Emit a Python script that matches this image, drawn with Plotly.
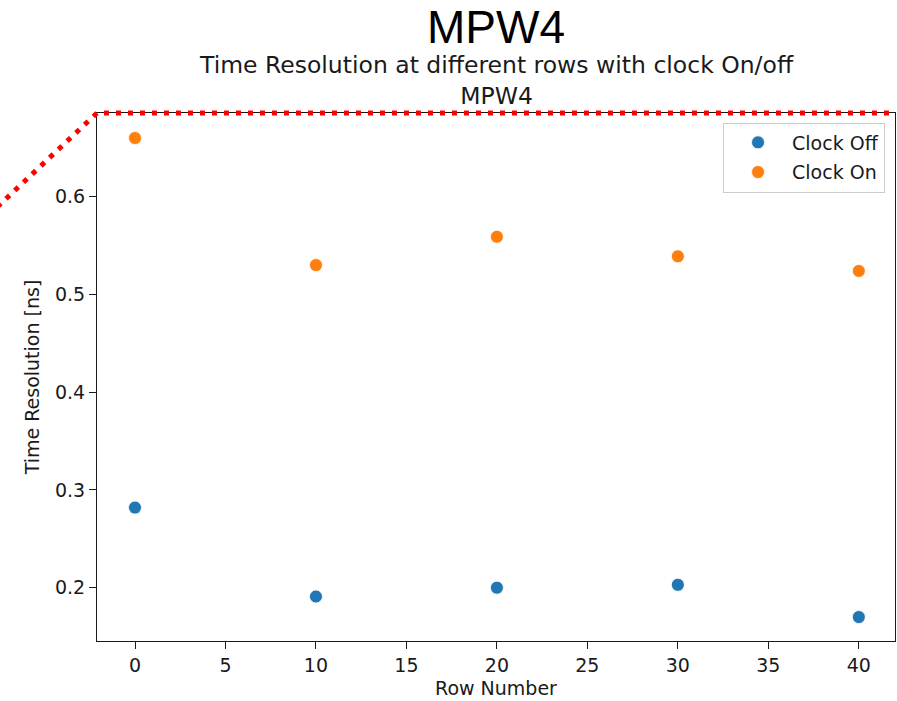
import plotly.graph_objects as go

# Measured time resolution per row, with the chip clock switched off / on
rows = [0, 10, 20, 30, 40]
clock_off = [0.282, 0.191, 0.200, 0.203, 0.170]
clock_on = [0.660, 0.530, 0.559, 0.539, 0.524]

x_ticks = [0, 5, 10, 15, 20, 25, 30, 35, 40]
y_ticks = [0.2, 0.3, 0.4, 0.5, 0.6]

BLUE = "#1f77b4"
ORANGE = "#ff7f0e"
FONT = "DejaVu Sans"
INK = "#1a1a1a"

fig = go.Figure()
for name, vals, col in [("Clock Off", clock_off, BLUE), ("Clock On", clock_on, ORANGE)]:
    fig.add_trace(go.Scatter(
        x=rows, y=vals, mode="markers", name=name, legendgroup=name,
        marker=dict(color=col, size=13, line=dict(color="white", width=0.8)),
    ))

axis_common = dict(
    showline=True, linecolor=INK, linewidth=1.2, mirror=True,
    ticks="outside", ticklen=7, tickwidth=1.2, tickcolor=INK,
    showgrid=False, zeroline=False,
    tickfont=dict(family=FONT, size=19, color=INK),
)

fig.update_layout(
    width=897, height=701,
    margin=dict(l=97, r=2, t=113, b=60),
    paper_bgcolor="white", plot_bgcolor="white",
    title=dict(text="MPW4", x=0.5, xref="paper", y=0.962, yanchor="middle",
               font=dict(family="Liberation Sans", size=46, color="black")),
    xaxis=dict(range=[-2.1, 42.0], tickvals=x_ticks,
               title=dict(text="Row Number", standoff=6,
                          font=dict(family=FONT, size=19, color=INK)),
               **axis_common),
    yaxis=dict(range=[0.1455, 0.6856], tickvals=y_ticks, tickformat=".1f",
               title=dict(text="Time Resolution [ns]", standoff=10,
                          font=dict(family=FONT, size=19, color=INK)),
               **axis_common),
    legend=dict(x=0.9875, y=0.982, xanchor="right", yanchor="top",
                bordercolor="#cccccc", borderwidth=1, bgcolor="rgba(255,255,255,0.8)",
                font=dict(family=FONT, size=19, color=INK),
                itemwidth=58, tracegroupgap=2),
    showlegend=True,
)

# Two-line subtitle above the axes
fig.add_annotation(text="Time Resolution at different rows with clock On/off<br>MPW4",
                   xref="paper", yref="paper", x=0.5, y=1.0 + (113 - 80) / 528,
                   showarrow=False, yanchor="middle",
                   font=dict(family=FONT, size=23.5, color=INK))

# Red dotted highlight running along the top edge of the axes
fig.add_shape(type="path", xref="paper", yref="paper",
              path="M -0.125,0.822 L 0,1.0 L 1.0,1.0",
              line=dict(color="red", width=5, dash="5px,7px"))

fig.write_html("out.html")
